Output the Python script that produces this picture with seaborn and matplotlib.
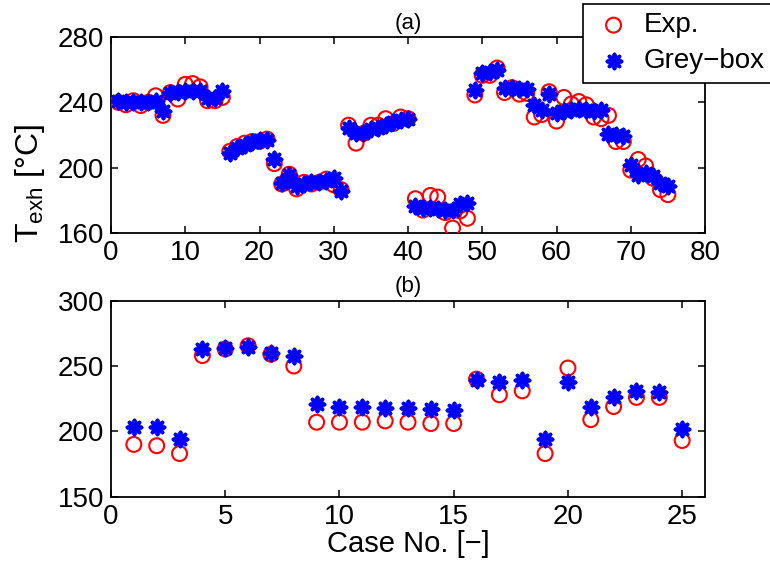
import numpy as np
import pandas as pd
import matplotlib
matplotlib.use("Agg")
import matplotlib.pyplot as plt
import seaborn as sns

# ---- data ----
case_a = list(range(1, 76))
exp_a = [240, 238.5, 241, 238, 240, 244, 232, 246, 242, 251, 251.5, 249.5, 241, 241, 243,
         210, 213, 215, 216, 216, 217.5, 202.5, 190, 196, 187, 191, 190, 191, 193, 189.5, 186.5,
         226, 215, 221, 226, 226, 230, 227, 231, 230,
         181, 174, 183, 182, 172.5, 163, 173.5, 169,
         244.5, 256.5, 256.5, 261, 246, 249, 245, 245.5, 231, 232.5, 246.5, 228.5, 243, 239,
         240.5, 238.5, 231, 230, 232, 216, 216, 198.5, 205, 201, 193.5, 186.5, 183.5]
grey_a = [241, 240.5, 240.5, 240, 240, 241, 234.5, 246, 246.5, 247, 247, 247, 242.5, 242.5, 247,
          209, 212, 214, 216, 217, 217, 205.5, 190.5, 195.5, 188.5, 190, 191, 191, 192, 193.5, 185.5,
          224.5, 221, 221.5, 223.5, 224.5, 226, 228, 229, 229.5,
          176.5, 175.5, 175.5, 175, 174, 174, 177.5, 178.5,
          247.5, 258, 258.5, 259.5, 248.5, 248.5, 248, 248, 238.5, 235.5, 245, 233.5, 234.5, 235.5,
          236, 235.5, 234.5, 235.5, 220.5, 220, 219.5, 201.5, 195.5, 196.5, 195, 190.5, 188.5]

case_b = list(range(1, 26))
exp_b = [190, 189, 183, 258, 263, 265.5, 259, 250, 207, 207, 207, 208, 207, 206, 206,
         240, 228, 231, 183, 248.5, 209, 219, 226, 226, 193]
grey_b = [203.5, 203.5, 194, 263, 263.5, 264.5, 260, 258, 221, 219, 219, 218, 218, 217, 216.5,
          239.5, 237.5, 239, 194, 237.5, 218.5, 226, 231, 230, 202]

xticks_a = [0, 10, 20, 30, 40, 50, 60, 70, 80]
yticks_a = [160, 200, 240, 280]
xticks_b = [0, 5, 10, 15, 20, 25]
yticks_b = [150, 200, 250, 300]

sns.set_style("ticks")
plt.rcParams["font.family"] = ["Liberation Sans", "DejaVu Sans"]
plt.rcParams["mathtext.fontset"] = "custom"
plt.rcParams["mathtext.rm"] = "Liberation Sans"
plt.rcParams["mathtext.it"] = "Liberation Sans:italic"
plt.rcParams["text.color"] = "black"
plt.rcParams["axes.labelcolor"] = "black"
plt.rcParams["xtick.color"] = "black"
plt.rcParams["ytick.color"] = "black"

fig = plt.figure(figsize=(7.7, 5.69), dpi=100)
ax_a = fig.add_axes([111/770, 1-233/569, 594/770, 196/569])
ax_b = fig.add_axes([111/770, 1-496.7/569, 594/770, 196/569])

star = (8, 2, 0)

def draw(ax, x, e, g):
    sns.scatterplot(x=x, y=e, ax=ax, marker="o", s=115, color="red",
                    facecolors="none", edgecolor="red", linewidth=1.5,
                    label="Exp.", zorder=3)
    sns.scatterplot(x=x, y=g, ax=ax, marker=star, s=100, color="blue",
                    linewidth=2.8, label="Grey\u2212box", zorder=4)

draw(ax_a, case_a, exp_a, grey_a)
draw(ax_b, case_b, exp_b, grey_b)

ax_a.set_xlim(0, 80)
ax_a.set_ylim(160, 280)
ax_a.set_xticks(xticks_a)
ax_a.set_yticks(yticks_a)
ax_b.set_xlim(0, 26)
ax_b.set_ylim(150, 300)
ax_b.set_xticks(xticks_b)
ax_b.set_yticks(yticks_b)

for ax in (ax_a, ax_b):
    for sp in ax.spines.values():
        sp.set_visible(True)
        sp.set_linewidth(1.3)
        sp.set_color("black")
    ax.tick_params(direction="in", length=5, width=1.1, top=True, right=True,
                   labelsize=20, pad=5, colors="black")
    ax.set_xlabel("")
    ax.set_ylabel("")

ax_a.set_title("(a)", fontsize=16, pad=6)
ax_b.set_title("(b)", fontsize=16, pad=6)

ax_b.set_xlabel("Case No. [\u2212]", fontsize=21, labelpad=0)
fig.text(30/770, 1-183/569, "T$_{\\rm exh}$ [°C]", rotation=90,
         fontsize=23, ha="center", va="center")

ax_b.get_legend().remove()
h, l = ax_a.get_legend_handles_labels()
ax_a.get_legend().remove()
leg = fig.legend(h, l, loc="lower left", bbox_to_anchor=(583/770, 1-82.5/569),
                 bbox_transform=fig.transFigure, fontsize=20, frameon=True,
                 fancybox=False, framealpha=1, edgecolor="black",
                 borderaxespad=0, handletextpad=0.3, borderpad=0.3,
                 labelspacing=0.35, handlelength=1.6)
leg.get_frame().set_linewidth(1.2)

fig.savefig("out.png", dpi=100, facecolor="white")
